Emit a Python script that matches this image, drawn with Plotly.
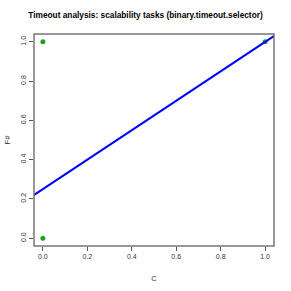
import plotly.graph_objects as go

# data
point_c = [0.0, 0.0, 1.0]
point_f = [1.0, 0.0, 1.0]
fit_intercept = 0.25
fit_slope = 0.75
tick_vals = [0.0, 0.2, 0.4, 0.6, 0.8, 1.0]
tick_text = ["0.0", "0.2", "0.4", "0.6", "0.8", "1.0"]

line_x = [-0.2, 1.2]
line_y = [fit_intercept + fit_slope * v for v in line_x]

fig = go.Figure()
fig.add_trace(go.Scatter(x=point_c, y=point_f, mode="markers",
                         marker=dict(color="#22a022", size=5), showlegend=False))
fig.add_trace(go.Scatter(x=line_x, y=line_y, mode="lines",
                         line=dict(color="#0000ff", width=2), showlegend=False))

font = "Liberation Sans, Arial, sans-serif"
axis_common = dict(range=[-0.04, 1.04], tickvals=tick_vals, ticktext=tick_text,
                   ticks="outside", ticklen=4, tickcolor="#555555", tickwidth=1,
                   showgrid=False, zeroline=False, showline=False, automargin=False,
                   tickfont=dict(size=7, color="#333333", family=font))
fig.update_layout(
    width=291, height=291,
    margin=dict(l=34, r=17, t=34, b=45),
    paper_bgcolor="white", plot_bgcolor="white",
    title=dict(text="<b>Timeout analysis: scalability tasks (binary.timeout.selector)</b>",
               x=0.5, xanchor="center", y=1 - 15 / 291, yanchor="middle",
               font=dict(size=8.3, color="black", family=font)),
    xaxis=dict(**axis_common, title=dict(text="C", standoff=16,
               font=dict(size=7.5, color="#333333", family=font))),
    yaxis=dict(**axis_common, tickangle=-90, title=dict(text="F#", standoff=8,
               font=dict(size=7.5, color="#333333", family=font))),
    shapes=[dict(type="rect", xref="paper", yref="paper", x0=0, x1=1, y0=0, y1=1,
                 line=dict(color="#777777", width=1.5))],
)
fig.write_html("out.html", config={"displayModeBar": False},
               post_script="document.body.style.margin='0';document.body.style.overflow='hidden';")
